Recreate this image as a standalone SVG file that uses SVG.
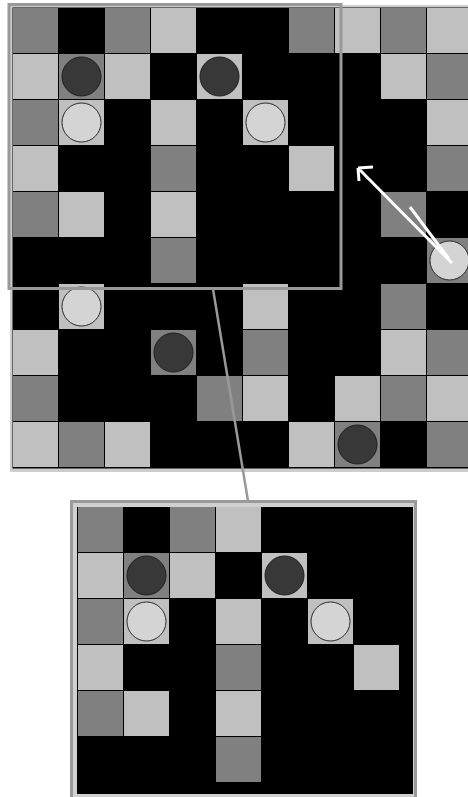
<svg xmlns="http://www.w3.org/2000/svg" width="468" height="797" viewBox="0 0 468 797">
<style>
.d{fill:#808080}
.l{fill:#c0c0c0}
.dc{fill:#383838;stroke:#1e1e1e;stroke-width:1}
.lc{fill:#d4d4d4;stroke:#2a2a2a;stroke-width:1}
.frame{fill:none;stroke:#999;stroke-width:3}
.arrow{fill:none;stroke:#fff;stroke-width:3;stroke-linecap:butt}
</style>
<rect width="468" height="797" fill="#fff"/>
<g id="main-board">
<rect x="10" y="5" width="470" height="467" fill="#cdcdcd"/>
<rect x="12.5" y="7.5" width="470" height="461" fill="#000"/>
<rect class="d" x="13" y="8" width="45" height="45"/>
<rect class="d" x="105" y="8" width="45" height="45"/>
<rect class="l" x="151" y="8" width="45" height="45"/>
<rect class="d" x="289" y="8" width="45" height="45"/>
<rect class="l" x="335" y="8" width="45" height="45"/>
<rect class="d" x="381" y="8" width="45" height="45"/>
<rect class="l" x="427" y="8" width="45" height="45"/>
<rect class="l" x="13" y="54" width="45" height="45"/>
<rect class="d" x="59" y="54" width="45" height="45"/>
<rect class="l" x="105" y="54" width="45" height="45"/>
<rect class="l" x="197" y="54" width="45" height="45"/>
<rect class="l" x="381" y="54" width="45" height="45"/>
<rect class="d" x="427" y="54" width="45" height="45"/>
<rect class="d" x="13" y="100" width="45" height="45"/>
<rect class="l" x="59" y="100" width="45" height="45"/>
<rect class="l" x="151" y="100" width="45" height="45"/>
<rect class="l" x="243" y="100" width="45" height="45"/>
<rect class="l" x="427" y="100" width="45" height="45"/>
<rect class="l" x="13" y="146" width="45" height="45"/>
<rect class="d" x="151" y="146" width="45" height="45"/>
<rect class="l" x="289" y="146" width="45" height="45"/>
<rect class="d" x="427" y="146" width="45" height="45"/>
<rect class="d" x="13" y="192" width="45" height="45"/>
<rect class="l" x="59" y="192" width="45" height="45"/>
<rect class="l" x="151" y="192" width="45" height="45"/>
<rect class="d" x="381" y="192" width="45" height="45"/>
<rect class="d" x="151" y="238" width="45" height="45"/>
<rect class="d" x="427" y="238" width="45" height="45"/>
<rect class="l" x="59" y="284" width="45" height="45"/>
<rect class="l" x="243" y="284" width="45" height="45"/>
<rect class="d" x="381" y="284" width="45" height="45"/>
<rect class="l" x="13" y="330" width="45" height="45"/>
<rect class="d" x="151" y="330" width="45" height="45"/>
<rect class="d" x="243" y="330" width="45" height="45"/>
<rect class="l" x="381" y="330" width="45" height="45"/>
<rect class="d" x="427" y="330" width="45" height="45"/>
<rect class="d" x="13" y="376" width="45" height="45"/>
<rect class="d" x="197" y="376" width="45" height="45"/>
<rect class="l" x="243" y="376" width="45" height="45"/>
<rect class="l" x="335" y="376" width="45" height="45"/>
<rect class="d" x="381" y="376" width="45" height="45"/>
<rect class="l" x="427" y="376" width="45" height="45"/>
<rect class="l" x="13" y="422" width="45" height="45"/>
<rect class="d" x="59" y="422" width="45" height="45"/>
<rect class="l" x="105" y="422" width="45" height="45"/>
<rect class="l" x="289" y="422" width="45" height="45"/>
<rect class="d" x="335" y="422" width="45" height="45"/>
<rect class="d" x="427" y="422" width="45" height="45"/>
<circle class="dc" cx="81.5" cy="76.5" r="19.5"/>
<circle class="dc" cx="219.5" cy="76.5" r="19.5"/>
<circle class="lc" cx="81.5" cy="122.5" r="19.5"/>
<circle class="lc" cx="265.5" cy="122.5" r="19.5"/>
<circle class="lc" cx="449.5" cy="260.5" r="19.5"/>
<circle class="lc" cx="81.5" cy="306.5" r="19.5"/>
<circle class="dc" cx="173.5" cy="352.5" r="19.5"/>
<circle class="dc" cx="357.5" cy="444.5" r="19.5"/>
</g>
<g id="move-arrow">
<path class="arrow" d="M452,263 L358,168 M358,168 L373,167 M358,168 L359,181 M410,207 L449,259"/>
</g>
<g id="zoom-frame">
<rect class="frame" x="9" y="4.5" width="332" height="284"/>
</g>
<g id="connectors">
<line x1="213" y1="289" x2="248" y2="501" stroke="#999" stroke-width="2.5"/>
</g>
<g id="zoom-view">
<rect x="70" y="500" width="347" height="297" fill="#9a9a9a"/>
<rect x="73" y="503" width="341" height="294" fill="#d0d0d0"/>
<rect x="77" y="507" width="336" height="287" fill="#000"/>
<rect class="d" x="78" y="507" width="45" height="45"/>
<rect class="d" x="170" y="507" width="45" height="45"/>
<rect class="l" x="216" y="507" width="45" height="45"/>
<rect class="l" x="78" y="553" width="45" height="45"/>
<rect class="d" x="124" y="553" width="45" height="45"/>
<rect class="l" x="170" y="553" width="45" height="45"/>
<rect class="l" x="262" y="553" width="45" height="45"/>
<rect class="d" x="78" y="599" width="45" height="45"/>
<rect class="l" x="124" y="599" width="45" height="45"/>
<rect class="l" x="216" y="599" width="45" height="45"/>
<rect class="l" x="308" y="599" width="45" height="45"/>
<rect class="l" x="78" y="645" width="45" height="45"/>
<rect class="d" x="216" y="645" width="45" height="45"/>
<rect class="l" x="354" y="645" width="45" height="45"/>
<rect class="d" x="78" y="691" width="45" height="45"/>
<rect class="l" x="124" y="691" width="45" height="45"/>
<rect class="l" x="216" y="691" width="45" height="45"/>
<rect class="d" x="216" y="737" width="45" height="45"/>
<circle class="dc" cx="146.5" cy="575.5" r="19.5"/>
<circle class="dc" cx="284.5" cy="575.5" r="19.5"/>
<circle class="lc" cx="146.5" cy="621.5" r="19.5"/>
<circle class="lc" cx="330.5" cy="621.5" r="19.5"/>
</g>
</svg>
